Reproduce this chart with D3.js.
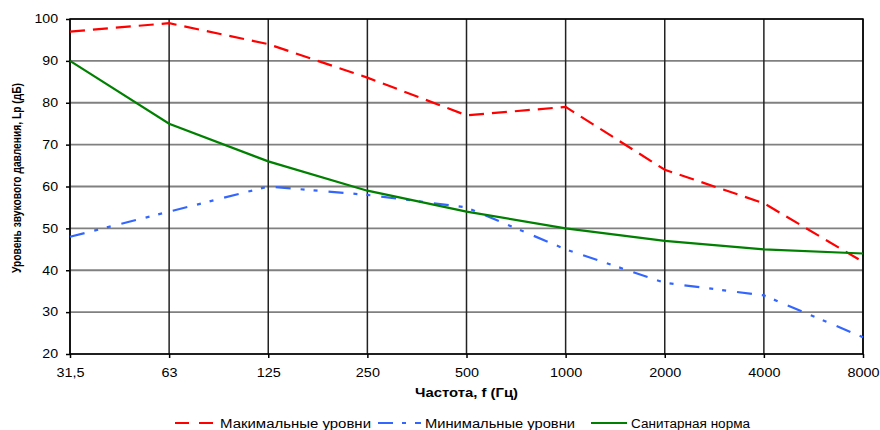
<!DOCTYPE html>
<html>
<head>
<meta charset="utf-8">
<script src="https://cdn.jsdelivr.net/npm/d3@7"></script>
<style>
  body { margin: 0; background: #fff; }
  text { font-family: "Liberation Sans", Arial, sans-serif; fill: #000; }
</style>
</head>
<body>
<svg id="chart" width="880" height="430"></svg>
<script>
// chart data
const freqs = ["31,5", "63", "125", "250", "500", "1000", "2000", "4000", "8000"];
const maxLevels = [97, 99, 94, 86, 77, 79, 64, 56, 42];
const minLevels = [48, 54, 60, 58, 55, 45, 37, 34, 24];
const sanitary = [90, 75, 66, 59, 54, 50, 47, 45, 44];
const yTicks = [20, 30, 40, 50, 60, 70, 80, 90, 100];

const series = [
    {name: "Макимальные уровни", values: maxLevels, color: "#ff0000", dash: "15,8", legendDash: "14,10"},
    {name: "Минимальные уровни", values: minLevels, color: "#3366ff", dash: "15,10,4,9,4,11", legendDash: "15,9,4,9"},
    {name: "Санитарная норма", values: sanitary, color: "#008000", dash: null, legendDash: null}
];

const svg = d3.select("#chart");
const plotLeft = 70, plotRight = 863, plotTop = 19, plotBottom = 354;

let x = d3.scalePoint().domain(freqs).range([plotLeft, plotRight]);
let y = d3.scaleLinear().domain([20, 100]).range([plotBottom, plotTop]);

// the original picture is a bit wider than tall, so text is stretched
function stretch(sel, k) {
    sel.each(function() {
        let w = this.getComputedTextLength();
        d3.select(this).attr("textLength", w * k).attr("lengthAdjust", "spacingAndGlyphs");
    });
}

// horizontal grid
svg.append("g")
    .selectAll("line")
    .data(yTicks)
    .enter()
    .append("line")
    .attr("x1", plotLeft).attr("x2", plotRight)
    .attr("y1", d => y(d)).attr("y2", d => y(d))
    .attr("stroke", "#808080")
    .attr("stroke-width", 1.8);

// vertical grid
svg.append("g")
    .selectAll("line")
    .data(freqs)
    .enter()
    .append("line")
    .attr("x1", d => x(d)).attr("x2", d => x(d))
    .attr("y1", plotTop).attr("y2", plotBottom)
    .attr("stroke", "#222")
    .attr("stroke-width", 1.5);

// plot border
svg.append("rect")
    .attr("x", plotLeft).attr("y", plotTop)
    .attr("width", plotRight - plotLeft).attr("height", plotBottom - plotTop)
    .attr("fill", "none")
    .attr("stroke", "#000")
    .attr("stroke-width", 1.5);

// axes
let yAxis = d3.axisLeft(y).tickValues(yTicks).tickSize(4).tickPadding(8);
svg.append("g")
    .attr("transform", "translate(" + plotLeft + ",0)")
    .call(yAxis)
    .call(g => g.select(".domain").remove())
    .call(g => g.selectAll("line").attr("stroke", "#000").attr("stroke-width", 1.5))
    .call(g => g.selectAll("text").style("font-size", "12px").style("font-family", "Liberation Sans, Arial").call(stretch, 1.18));

let xAxis = d3.axisBottom(x).tickSize(4).tickPadding(10);
svg.append("g")
    .attr("transform", "translate(0," + plotBottom + ")")
    .call(xAxis)
    .call(g => g.select(".domain").remove())
    .call(g => g.selectAll("line").attr("stroke", "#000").attr("stroke-width", 1.5))
    .call(g => g.selectAll("text").style("font-size", "12px").style("font-family", "Liberation Sans, Arial").call(stretch, 1.2));

// axis titles
svg.append("text")
    .attr("x", (plotLeft + plotRight) / 2)
    .attr("y", 397)
    .attr("text-anchor", "middle")
    .style("font-size", "12px")
    .style("font-weight", "bold")
    .attr("textLength", 103)
    .attr("lengthAdjust", "spacingAndGlyphs")
    .text("Частота, f (Гц)");

svg.append("text")
    .attr("transform", "translate(20.5,178) rotate(-90)")
    .attr("text-anchor", "middle")
    .style("font-size", "12px")
    .style("font-weight", "bold")
    .attr("textLength", 190)
    .attr("lengthAdjust", "spacingAndGlyphs")
    .text("Уровень звукового давления, Lp (дБ)");

// lines
let line = d3.line()
    .x((d, i) => x(freqs[i]))
    .y(d => y(d));

series.forEach(s => {
    svg.append("path")
        .datum(s.values)
        .attr("d", line)
        .attr("fill", "none")
        .attr("stroke", s.color)
        .attr("stroke-width", 2.2)
        .attr("stroke-dasharray", s.dash);
});

// legend
const legendX = [175, 378, 591];
const sampleLen = [41, 43, 36];
const legendTextLen = [151, 150, 119];
series.forEach((s, i) => {
    let g = svg.append("g").attr("transform", "translate(" + legendX[i] + ",423)");
    g.append("line")
        .attr("x1", 0).attr("x2", sampleLen[i])
        .attr("y1", 0).attr("y2", 0)
        .attr("stroke", s.color)
        .attr("stroke-width", 2.2)
        .attr("stroke-dasharray", s.legendDash);
    g.append("text")
        .attr("x", sampleLen[i] + 4)
        .attr("y", 4.5)
        .style("font-size", "12.5px")
        .attr("textLength", legendTextLen[i])
        .attr("lengthAdjust", "spacingAndGlyphs")
        .text(s.name);
});
</script>
</body>
</html>
